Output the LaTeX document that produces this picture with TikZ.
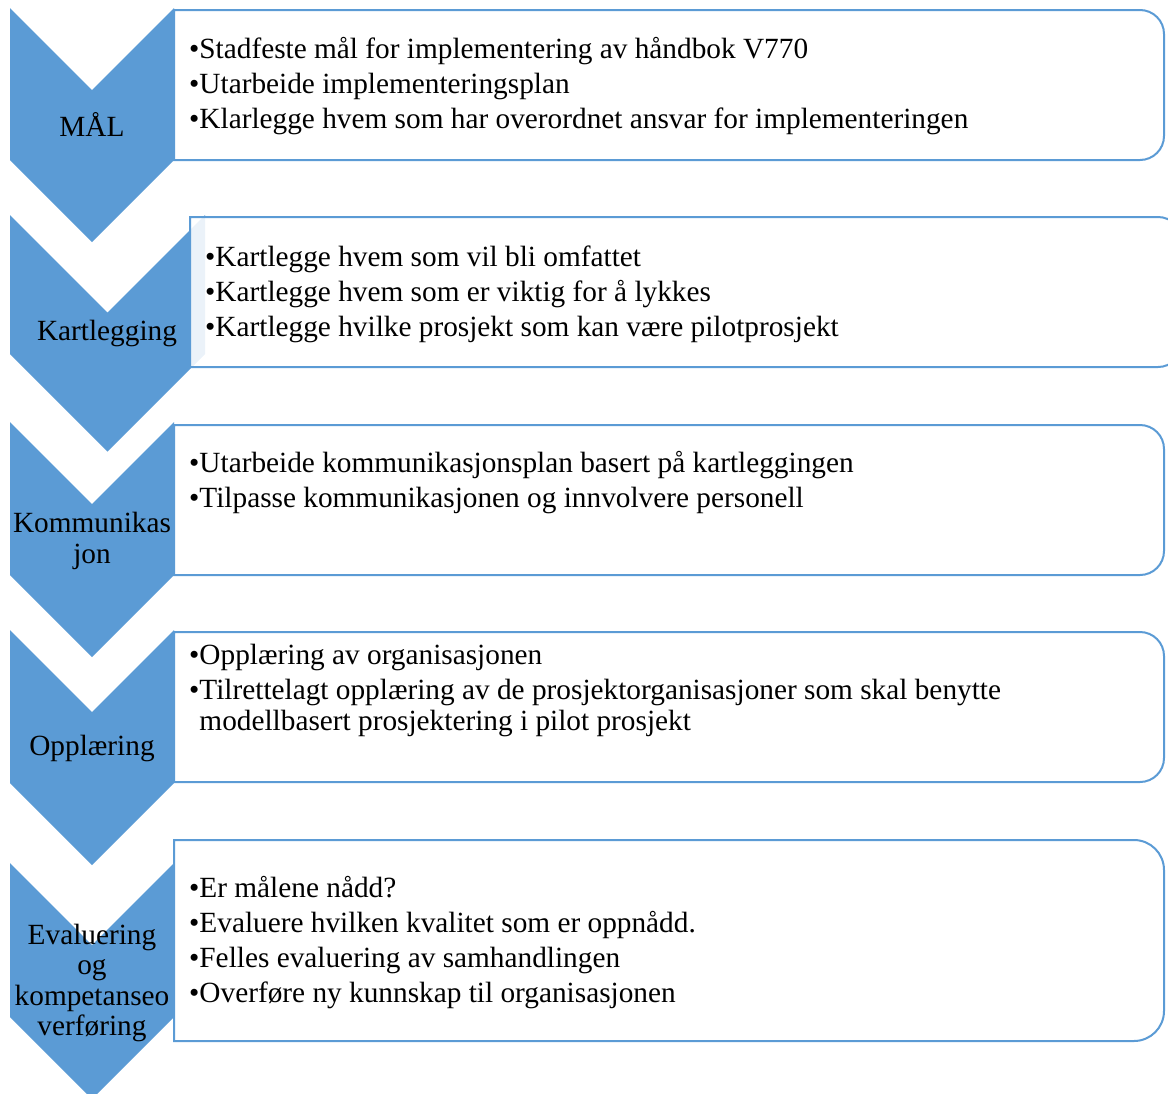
\documentclass[tikz,border=0pt]{standalone}
\usepackage{fontspec}
\setmainfont{Liberation Serif}
\usepackage{tikz}
\usetikzlibrary{positioning}

\definecolor{stepblue}{HTML}{5B9BD5}

\tikzset{
    chev/.style={fill=stepblue},
    panel/.style={draw=stepblue, line width=2pt, fill=white, fill opacity=0.88},
    tag/.style={align=center, inner sep=0pt, font=\fontsize{29.3}{30.5}\selectfont},
    items/.style={anchor=base west, align=left, inner sep=0pt, font=\fontsize{29.3}{35}\selectfont}
}

\begin{document}
\begin{tikzpicture}[x=1pt, y=-1pt]

    \path[use as bounding box, clip] (0,0) rectangle (1168,1093);

    % --- chevrons: top y / width / side height ---
    \foreach \t/\w/\h in {8/164/152, 215/195/139, 422/164/153, 630/164/153, 863/164/154}
        \fill[chev] (10,\t) -- ++(\w/2,\w/2) -- ++(\w/2,-\w/2) -- ++(0,\h)
            -- ++(-\w/2,\w/2) -- ++(-\w/2,-\w/2) -- cycle;

    % --- panels (rounded on the right only) ---
    \draw[panel] (174,10) -- (700,10) [rounded corners=24] -- (1164,10) -- (1164,160) -- (700,160) [sharp corners] -- (174,160) -- cycle;
    \draw[panel] (190,217) -- (700,217) [rounded corners=24] -- (1182,217) -- (1182,367) -- (700,367) [sharp corners] -- (190,367) -- cycle;
    \draw[panel] (174,425) -- (700,425) [rounded corners=24] -- (1164,425) -- (1164,575) -- (700,575) [sharp corners] -- (174,575) -- cycle;
    \draw[panel] (174,632) -- (700,632) [rounded corners=24] -- (1164,632) -- (1164,782) -- (700,782) [sharp corners] -- (174,782) -- cycle;
    \draw[panel] (174,840) -- (700,840) [rounded corners=30] -- (1164,840) -- (1164,1041) -- (700,1041) [sharp corners] -- (174,1041) -- cycle;

    % --- step names ---
    \node[tag] (mal)  at (92,124) {MÅL};
    \node[tag] (kart) at (107,333) {Kartlegging};
    \node[tag] (komm) at (92,541) {Kommunikas\\jon};
    \node[tag] (oppl) at (92,748) {Opplæring};
    \node[tag] (eval) at (92,983) {Evaluering\\og\\kompetanseo\\verføring};

    % --- bullet lists (placed at the baseline of the last line) ---
    \node[items] (malpkt) at (189,128) {•Stadfeste mål for implementering av håndbok V770\\
        •Utarbeide implementeringsplan\\
        •Klarlegge hvem som har overordnet ansvar for implementeringen};
    \node[items] (kartpkt) at (205,336) {•Kartlegge hvem som vil bli omfattet\\
        •Kartlegge hvem som er viktig for å lykkes\\
        •Kartlegge hvilke prosjekt som kan være pilotprosjekt};
    \node[items] (kommpkt) at (189,507) {•Utarbeide kommunikasjonsplan basert på kartleggingen\\
        •Tilpasse kommunikasjonen og innvolvere personell};
    \node[items] (opplpkt) at (189,730) {•Opplæring av organisasjonen\\
        •Tilrettelagt opplæring av de prosjektorganisasjoner som skal benytte\\[-4pt]
        \phantom{•}modellbasert prosjektering i pilot prosjekt};
    \node[items] (evalpkt) at (189,1002) {•Er målene nådd?\\
        •Evaluere hvilken kvalitet som er oppnådd.\\
        •Felles evaluering av samhandlingen\\
        •Overføre ny kunnskap til organisasjonen};

\end{tikzpicture}
\end{document}
